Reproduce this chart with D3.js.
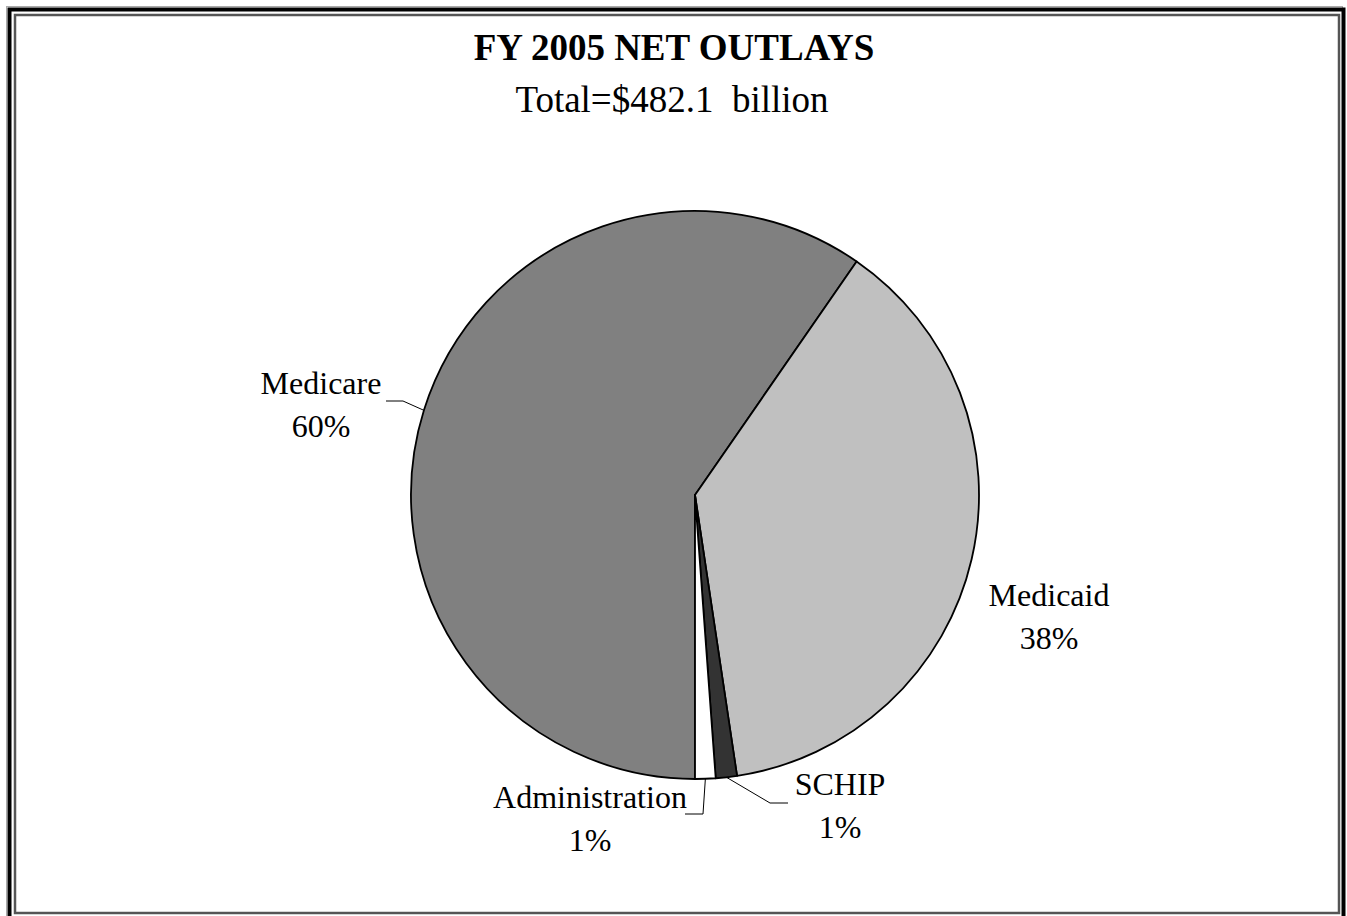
<!DOCTYPE html>
<html>
<head>
    <meta charset="utf-8" />
    <title>FY 2005 Net Outlays</title>
    <style>
        body { margin: 0; background: #fff; }
        text { font-family: "Liberation Serif", "Times New Roman", serif; fill: #000; }
    </style>
</head>
<body>
<script src="https://d3js.org/d3.v7.min.js"></script>
<script>
    // outlays in $ billions
    var categories = ["Medicare", "Medicaid", "SCHIP", "Administration"];
    var outlays = [287.5, 183.2, 5.8, 5.6];
    var percentLabels = ["60%", "38%", "1%", "1%"];
    var colors = ["#808080", "#c0c0c0", "#333333", "#ffffff"];

    var title = "FY 2005 NET OUTLAYS";
    var subtitle = "Total=$482.1  billion";

    var width = 1347;
    var height = 916;
    var cx = 695, cy = 495, radius = 284;

    // label placement: text centre, and leader elbow/end (null = no leader)
    var labelPos = [
        {x: 321, y: 394, elbow: [403, 401], end: [386, 401]},
        {x: 1049, y: 606, elbow: null, end: null},
        {x: 840, y: 795, elbow: [770, 803], end: [788, 803]},
        {x: 590, y: 808, elbow: [703, 814], end: [685, 814]}
    ];

    var svg = d3.select("body").append("svg")
                .attr("width", width)
                .attr("height", height);

    // double frame
    svg.append("rect")
       .attr("x", 6.5).attr("y", 6.5)
       .attr("width", width - 11).attr("height", height)
       .attr("fill", "none").attr("stroke", "#aaa").attr("stroke-width", 1);
    svg.append("rect")
       .attr("x", 9.5).attr("y", 9.5)
       .attr("width", 1334).attr("height", 910)
       .attr("fill", "none").attr("stroke", "#000").attr("stroke-width", 4);
    svg.append("rect")
       .attr("x", 15).attr("y", 15)
       .attr("width", 1324).attr("height", 898)
       .attr("fill", "none").attr("stroke", "#555").attr("stroke-width", 2.5);

    svg.append("text")
       .attr("x", 674).attr("y", 60)
       .attr("text-anchor", "middle")
       .style("font-size", "37px")
       .style("font-weight", "bold")
       .text(title);

    svg.append("text")
       .attr("x", 672).attr("y", 112)
       .attr("text-anchor", "middle")
       .style("font-size", "37px")
       .style("white-space", "pre")
       .text(subtitle);

    var data = categories.map(function(c, i) {
        return {name: c, value: outlays[i], pct: percentLabels[i], color: colors[i], pos: labelPos[i]};
    });

    // start at six o'clock, running clockwise
    var pie = d3.pie()
                .sort(null)
                .value(d => d.value)
                .startAngle(Math.PI)
                .endAngle(3 * Math.PI);

    var arc = d3.arc().innerRadius(0).outerRadius(radius);

    var arcs = pie(data);

    var pieGroup = svg.append("g")
                      .attr("transform", "translate(" + cx + "," + cy + ")");

    pieGroup.selectAll("path")
            .data(arcs)
            .enter().append("path")
            .attr("d", arc)
            .attr("fill", d => d.data.color)
            .attr("stroke", "#000")
            .attr("stroke-width", 1.8)
            .attr("stroke-linejoin", "round");

    // leader lines from the middle of each slice's rim
    svg.append("g").selectAll("polyline")
       .data(arcs.filter(d => d.data.pos.elbow))
       .enter().append("polyline")
       .attr("points", function(d) {
           var a = (d.startAngle + d.endAngle) / 2;
           var px = cx + radius * Math.sin(a);
           var py = cy - radius * Math.cos(a);
           return [[px, py], d.data.pos.elbow, d.data.pos.end].map(p => p.join(",")).join(" ");
       })
       .attr("fill", "none")
       .attr("stroke", "#000")
       .attr("stroke-width", 1);

    var labels = svg.append("g").selectAll("text")
                    .data(arcs)
                    .enter().append("text")
                    .attr("text-anchor", "middle")
                    .style("font-size", "32px");

    labels.append("tspan")
          .attr("x", d => d.data.pos.x)
          .attr("y", d => d.data.pos.y)
          .text(d => d.data.name);

    labels.append("tspan")
          .attr("x", d => d.data.pos.x)
          .attr("y", d => d.data.pos.y + 43)
          .text(d => d.data.pct);
</script>
</body>
</html>
